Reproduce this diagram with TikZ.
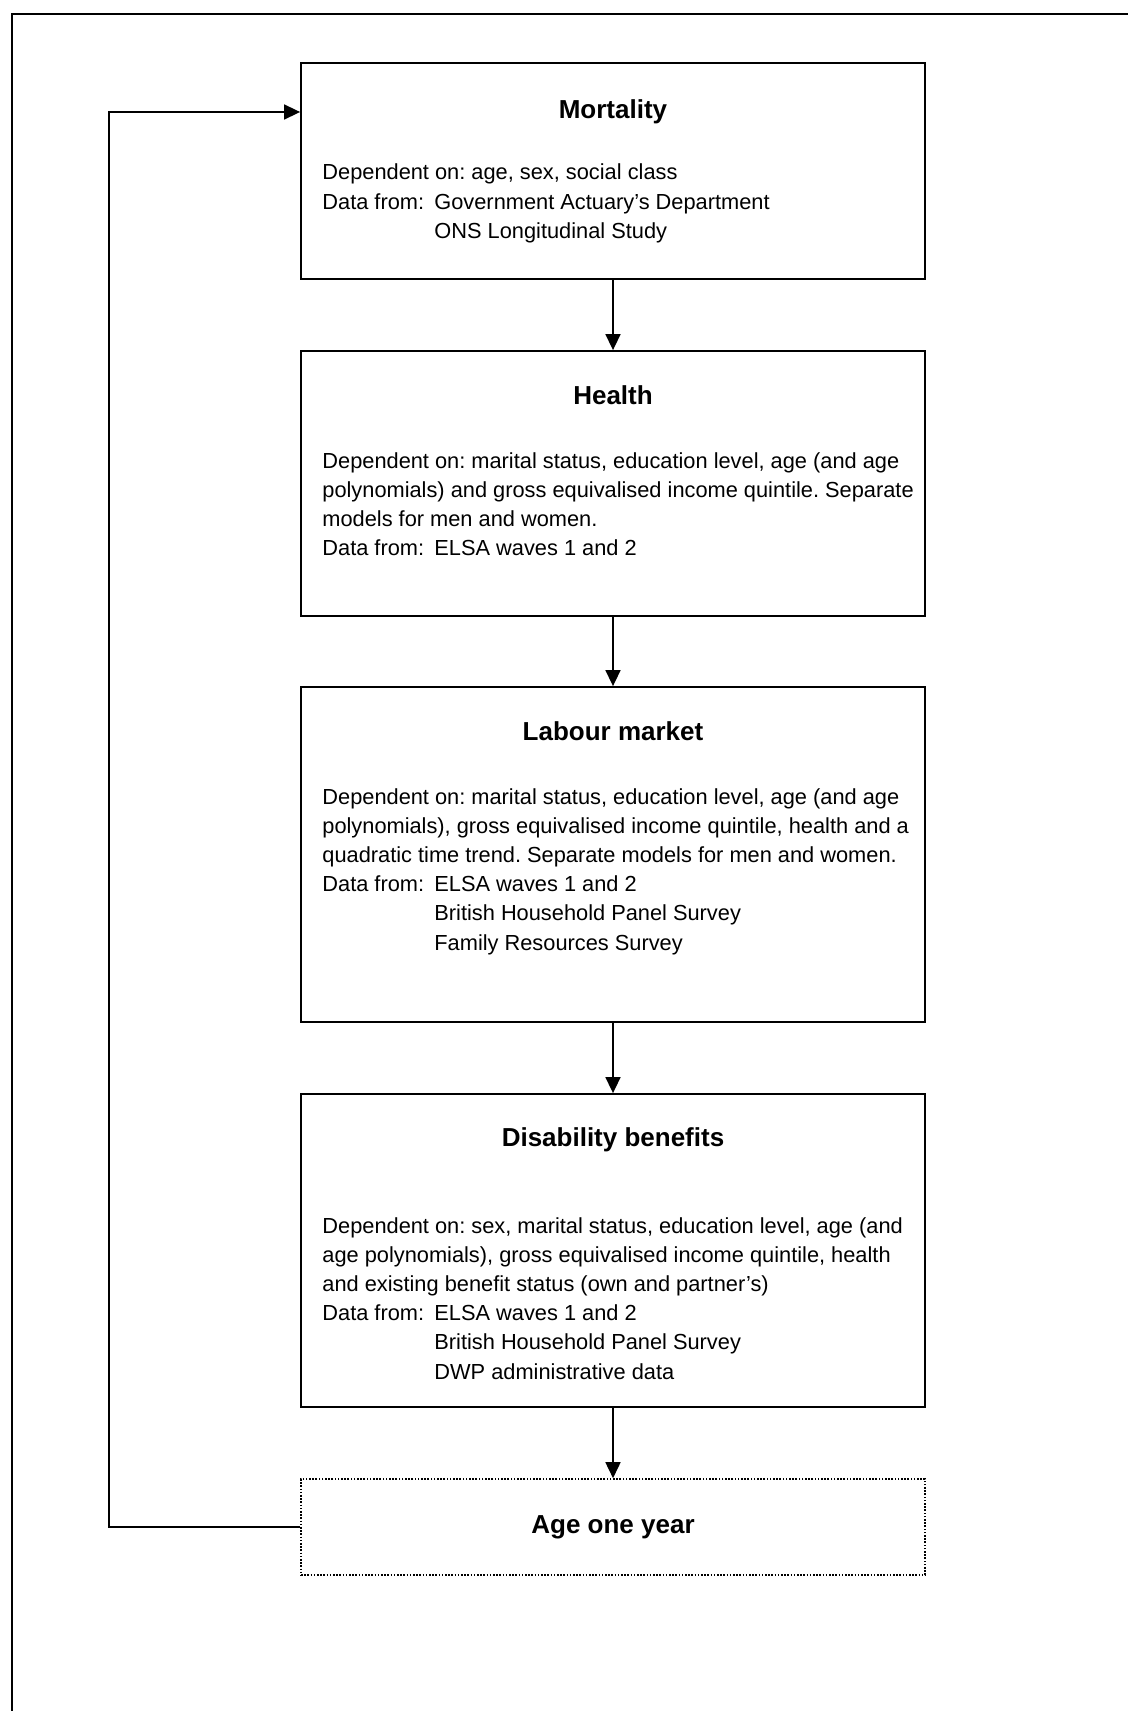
\documentclass[tikz,border=0pt]{standalone}
\usepackage{fontspec}
\setmainfont{Liberation Sans}
\usetikzlibrary{arrows.meta}
\newcommand\datafrom{\makebox[56pt][l]{Data from:}}
\newcommand\dataind{\hspace*{56pt}}
\frenchspacing
\begin{document}
\begin{tikzpicture}[x=0.5pt,y=-0.5pt,
  box/.style={draw,line width=0.9pt,minimum width=312pt,inner sep=0pt},
  dotbox/.style={draw,line width=0.8pt,dash pattern=on 0.8pt off 0.8pt,minimum width=312pt,inner sep=0pt},
  ttl/.style={inner sep=0pt,font=\fontsize{13}{15}\selectfont\bfseries},
  body/.style={anchor=base west,inner sep=0pt,font=\fontsize{10.9}{14.6}\selectfont},
  arr/.style={line width=0.8pt,-{Triangle[length=8pt,width=7.5pt]}}]
\useasboundingbox (0,0) rectangle (1128,1711);
% outer frame (left and top sides visible)
\draw[line width=0.9pt] (12,1730) -- (12,14) -- (1150,14);
% boxes
\node[box,minimum height=108pt] (mort) at (613,171) {};
\node[box,minimum height=132.5pt] (health) at (613,483.5) {};
\node[box,minimum height=167.5pt] (labour) at (613,854.5) {};
\node[box,minimum height=156.5pt] (disab) at (613,1250.5) {};
\node[dotbox,minimum height=48pt] (age) at (613,1527) {};
% titles
\node[ttl] (mortT) at (613,112) {Mortality};
\node[ttl] (healthT) at (613,395) {Health};
\node[ttl] (labourT) at (613,731) {Labour market};
\node[ttl] (disabT) at (613,1140) {Disability benefits};
\node[ttl] (ageT) at (613,1527) {Age one year};
% bodies
\node[body] (mortB) at (322,180) {\begin{tabular}[t]{@{}l@{}}
Dependent on: age, sex, social class\\
\datafrom Government Actuary's Department\\
\dataind ONS Longitudinal Study
\end{tabular}};
\node[body] (healthB) at (322,468) {\begin{tabular}[t]{@{}l@{}}
Dependent on: marital status, education level, age (and age\\
polynomials) and gross equivalised income quintile. Separate\\
models for men and women.\\
\datafrom ELSA waves 1 and 2
\end{tabular}};
\node[body] (labourB) at (322,804) {\begin{tabular}[t]{@{}l@{}}
Dependent on: marital status, education level, age (and age\\
polynomials), gross equivalised income quintile, health and a\\
quadratic time trend. Separate models for men and women.\\
\datafrom ELSA waves 1 and 2\\
\dataind British Household Panel Survey\\
\dataind Family Resources Survey
\end{tabular}};
\node[body] (disabB) at (322,1233) {\begin{tabular}[t]{@{}l@{}}
Dependent on: sex, marital status, education level, age (and\\
age polynomials), gross equivalised income quintile, health\\
and existing benefit status (own and partner's)\\
\datafrom ELSA waves 1 and 2\\
\dataind British Household Panel Survey\\
\dataind DWP administrative data
\end{tabular}};
% connectors
\draw[arr] (mort.south) -- (health.north);
\draw[arr] (health.south) -- (labour.north);
\draw[arr] (labour.south) -- (disab.north);
\draw[arr] (disab.south) -- (age.north);
\coordinate (lb) at (109,1527);
\coordinate (lt) at (109,112);
\draw[arr] (age.west) -- (lb) -- (lt) -- (lt -| mort.west);
\end{tikzpicture}
\end{document}
